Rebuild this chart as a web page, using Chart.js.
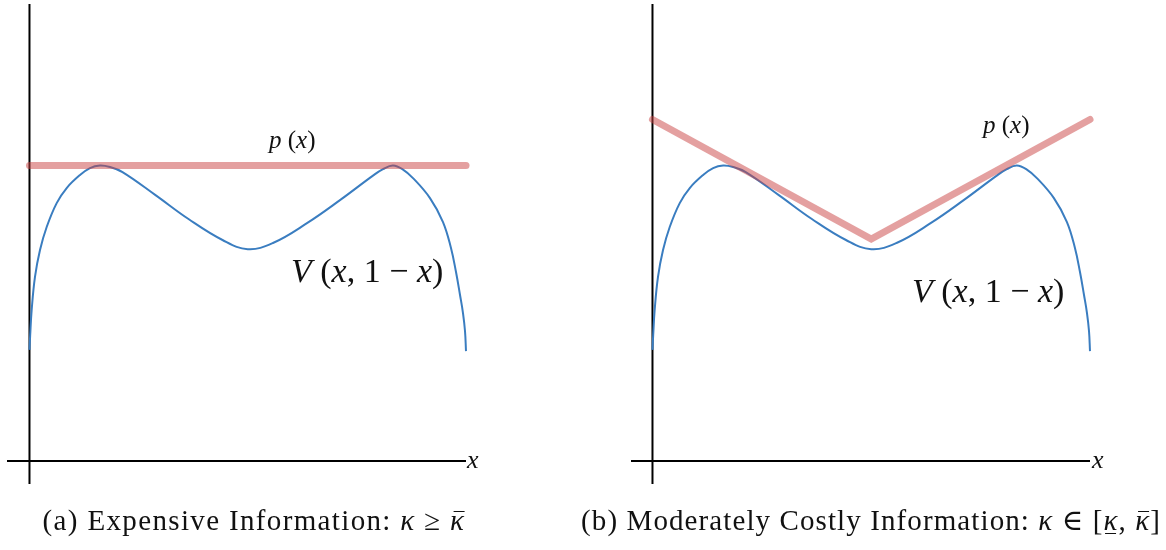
<!DOCTYPE html>
<html>
<head>
<meta charset="utf-8">
<script src="https://cdn.jsdelivr.net/npm/chart.js@4/dist/chart.umd.min.js"></script>
<style>
  html, body { margin:0; padding:0; background:#fff; }
  #wrap { position:relative; width:1166px; height:550px; overflow:hidden; font-family:"Liberation Serif", "DejaVu Serif", serif; color:#111; }
  .cv { position:absolute; top:0; }
  .lbl { position:absolute; white-space:nowrap; line-height:1; }
  .lbl i { font-style:italic; }
  .cap { position:absolute; white-space:nowrap; font-size:29px; letter-spacing:1.1px; line-height:1; transform:translateX(-50%); }
  .cap i { font-style:italic; }
  .bar, .ubar { position:relative; display:inline-block; }
  .bar::after { content:''; position:absolute; left:3px; right:1px; top:5px; border-top:1.5px solid #111; }
  .ubar::after { content:''; position:absolute; left:2px; right:2px; bottom:1px; border-top:1.5px solid #111; }
</style>
</head>
<body>
<div id="wrap">
  <canvas id="c1" class="cv" width="583" height="550" style="left:0px;width:583px;height:550px"></canvas>
  <canvas id="c2" class="cv" width="583" height="550" style="left:583px;width:583px;height:550px"></canvas>

  <div class="lbl" style="left:269px;top:127px;font-size:25px"><i>p</i> (<i>x</i>)</div>
  <div class="lbl" style="left:291px;top:254px;font-size:34px"><i>V</i> (<i>x</i>, 1 − <i>x</i>)</div>
  <div class="lbl" style="left:467px;top:447px;font-size:26px"><i>x</i></div>

  <div class="lbl" style="left:983px;top:112px;font-size:25px"><i>p</i> (<i>x</i>)</div>
  <div class="lbl" style="left:912px;top:274px;font-size:34px"><i>V</i> (<i>x</i>, 1 − <i>x</i>)</div>
  <div class="lbl" style="left:1092px;top:447px;font-size:26px"><i>x</i></div>

  <div class="cap" style="left:254px;top:506px;letter-spacing:1.35px">(a) Expensive Information: <i>κ</i> ≥ <i class="bar">κ</i></div>
  <div class="cap" style="left:871px;top:506px">(b) Moderately Costly Information: <i>κ</i> ∈ [<i class="ubar">κ</i>, <i class="bar">κ</i>]</div>
</div>
<script>
// V(x, 1-x) curve (x in [0,1], height with p(x) plateau = 1)
const vX = [0, 0.0016, 0.005, 0.0126, 0.0241, 0.0394, 0.0623, 0.0852, 0.1157, 0.1386, 0.1615, 0.1844, 0.2131, 0.2887, 0.3643, 0.4422, 0.5, 0.5578, 0.6357, 0.7113, 0.7869, 0.8099, 0.8328, 0.8557, 0.8786, 0.9175, 0.9473, 0.9656, 0.9771, 0.9863, 0.9931, 0.9977, 1];
const vY = [0.376, 0.426, 0.511, 0.623, 0.714, 0.792, 0.873, 0.924, 0.968, 0.9915, 1.0, 0.995, 0.978, 0.900, 0.819, 0.748, 0.717, 0.738, 0.805, 0.883, 0.966, 0.988, 1.0, 0.9865, 0.9577, 0.890, 0.8088, 0.7208, 0.6396, 0.5618, 0.5008, 0.4399, 0.372];

// p(x) in panel (a): flat line
const pAX = [0, 1];
const pAY = [1.0, 1.0];

// p(x) in panel (b): V-shaped
const pBX = [0, 0.5, 1];
const pBY = [1.156, 0.751, 1.156];

// axes extents
const xAxisX = [-0.0515, 1.0];
const yAxisY = [-0.078, 1.547];

const zip = (xs, ys) => xs.map((x, i) => ({x: x, y: ys[i]}));

const BLUE = 'rgb(58,125,192)';
const PINK = 'rgba(201,65,65,0.5)';

function makeChart(id, pX, pY, xmin, padL, padR) {
  return new Chart(document.getElementById(id), {
    type: 'line',
    data: {
      datasets: [
        { data: zip(pX, pY), borderColor: PINK, borderWidth: 7, borderCapStyle: 'round', borderJoinStyle: 'miter', pointRadius: 0, tension: 0, order: 0, clip: false },
        { data: zip(vX, vY), borderColor: BLUE, borderWidth: 2, pointRadius: 0, tension: 0.4, order: 1, clip: false },
        { data: zip([xmin, xAxisX[1]], [0, 0]), borderColor: '#000', borderWidth: 2, pointRadius: 0, order: 2, clip: false },
        { data: zip([0, 0], yAxisY), borderColor: '#000', borderWidth: 2, pointRadius: 0, order: 2, clip: false }
      ]
    },
    options: {
      responsive: false,
      animation: false,
      devicePixelRatio: 1,
      layout: { padding: { left: padL, right: padR, top: 4, bottom: 66 } },
      plugins: { legend: { display: false }, tooltip: { enabled: false }, title: { display: false } },
      scales: {
        x: { type: 'linear', display: false, min: xmin, max: xAxisX[1] },
        y: { type: 'linear', display: false, min: yAxisY[0], max: yAxisY[1] }
      }
    }
  });
}

makeChart('c1', pAX, pAY, xAxisX[0], 7, 117);
makeChart('c2', pBX, pBY, -0.0491, 48, 76);
</script>
</body>
</html>
